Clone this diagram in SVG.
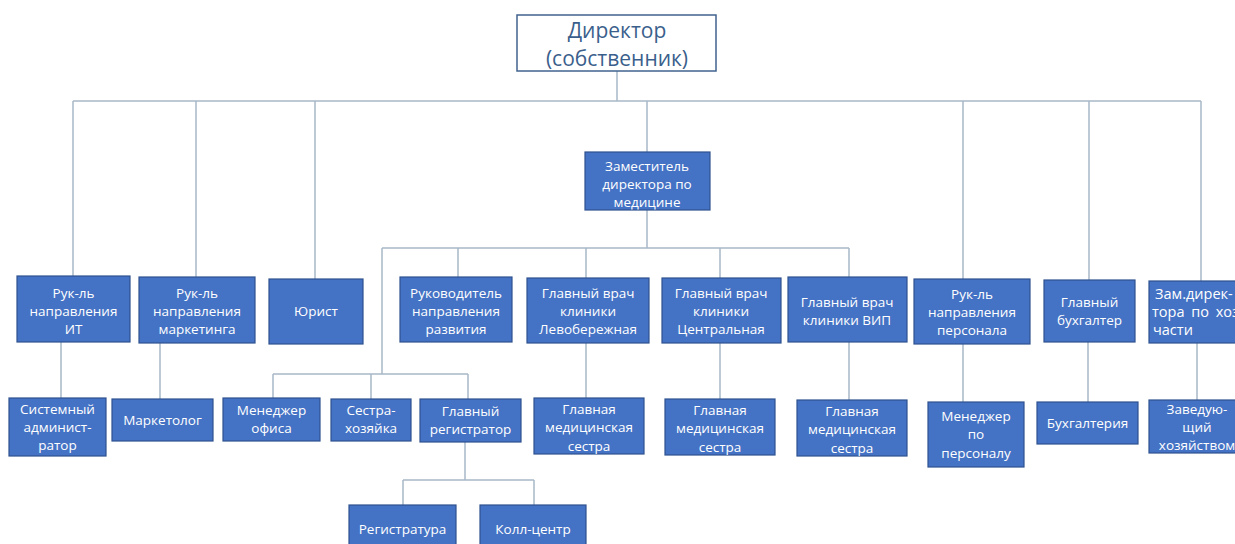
<svg xmlns="http://www.w3.org/2000/svg" width="1235" height="544" viewBox="0 0 1235 544">
<style>
.b{fill:#4472C4;stroke:#2F528F;stroke-width:1.2}
.t{font-family:"Open Sans","Noto Sans",sans-serif;font-size:13.5px;fill:#fff;text-anchor:middle}
.c{stroke:#A8B8C8;stroke-width:1.5;fill:none}
.d{font-family:"Open Sans","Noto Sans",sans-serif;font-size:21px;fill:#3B5F8C;text-anchor:middle}
</style>
<rect width="1235" height="544" fill="#fff"/>
<g id="connectors">
<path class="c" d="M617 71V101M73 101H1201M73 101V276M196 101V277M315 101V279M647 101V152M963 101V279M1089 101V280M1201 101V281"/>
<path class="c" d="M647 210V248M382 248H849M458 248V277M586 248V278M720 248V278M849 248V277M382 248V374M273 374H468M273 374V398M371 374V399M468 374V399"/>
<path class="c" d="M61 342V398M160 343V399M586 343V398M720 343V399M849 342V400M963 344V402M1088 342V402M1197 343V400"/>
<path class="c" d="M465 442V480M403 480H534M403 480V505M534 480V505"/>
</g>
<g id="director"><rect x="517" y="15" width="199" height="56" fill="#fff" stroke="#41638F" stroke-width="1.5"/><text class="d" x="617" y="38">Директор</text><text class="d" x="617" y="66">(собственник)</text></g>
<g id="zam"><rect class="b" x="585" y="152" width="125" height="58"/><text class="t" x="647" y="171">Заместитель</text><text class="t" x="647" y="189">директора по</text><text class="t" x="647" y="207">медицине</text></g>
<g id="it"><rect class="b" x="17" y="276" width="113" height="66"/><text class="t" x="73.5" y="298">Рук-ль</text><text class="t" x="73.5" y="316">направления</text><text class="t" x="73.5" y="334">ИТ</text></g>
<g id="marketing"><rect class="b" x="139" y="277" width="116" height="66"/><text class="t" x="197" y="298">Рук-ль</text><text class="t" x="197" y="316">направления</text><text class="t" x="197" y="334">маркетинга</text></g>
<g id="lawyer"><rect class="b" x="269" y="279" width="94" height="65"/><text class="t" x="316" y="316">Юрист</text></g>
<g id="dev"><rect class="b" x="400" y="277" width="112" height="65"/><text class="t" x="456" y="298">Руководитель</text><text class="t" x="456" y="316">направления</text><text class="t" x="456" y="334">развития</text></g>
<g id="lev"><rect class="b" x="527" y="278" width="122" height="65"/><text class="t" x="588" y="298">Главный врач</text><text class="t" x="588" y="316">клиники</text><text class="t" x="588" y="334">Левобережная</text></g>
<g id="centr"><rect class="b" x="662" y="278" width="119" height="65"/><text class="t" x="721" y="298">Главный врач</text><text class="t" x="721" y="316">клиники</text><text class="t" x="721" y="334">Центральная</text></g>
<g id="vip"><rect class="b" x="788" y="277" width="119" height="65"/><text class="t" x="847" y="307">Главный врач</text><text class="t" x="847" y="325">клиники ВИП</text></g>
<g id="hr"><rect class="b" x="914" y="279" width="116" height="65"/><text class="t" x="972" y="299">Рук-ль</text><text class="t" x="972" y="317">направления</text><text class="t" x="972" y="335">персонала</text></g>
<g id="accountant"><rect class="b" x="1044" y="280" width="91" height="62"/><text class="t" x="1089.5" y="307">Главный</text><text class="t" x="1089.5" y="325">бухгалтер</text></g>
<g id="zamhoz"><rect class="b" x="1149" y="281" width="100" height="62"/><text class="t" x="1155" y="299" style="text-anchor:start;font-size:14.5px">Зам.дирек-</text><text class="t" x="1152" y="317" style="text-anchor:start;font-size:14.5px;word-spacing:3px">тора по хоз</text><text class="t" x="1153" y="335" style="text-anchor:start;font-size:14.5px">части</text></g>
<g id="sysadmin"><rect class="b" x="9" y="398" width="97" height="58"/><text class="t" x="57.5" y="414">Системный</text><text class="t" x="57.5" y="432">админист-</text><text class="t" x="57.5" y="450">ратор</text></g>
<g id="marketolog"><rect class="b" x="112" y="399" width="101" height="42"/><text class="t" x="162.5" y="425">Маркетолог</text></g>
<g id="office"><rect class="b" x="223" y="398" width="97" height="43"/><text class="t" x="271.5" y="415">Менеджер</text><text class="t" x="271.5" y="433">офиса</text></g>
<g id="sister"><rect class="b" x="331" y="399" width="80" height="42"/><text class="t" x="371" y="415">Сестра-</text><text class="t" x="371" y="433">хозяйка</text></g>
<g id="registrar"><rect class="b" x="420" y="399" width="101" height="43"/><text class="t" x="470.5" y="416">Главный</text><text class="t" x="470.5" y="434">регистратор</text></g>
<g id="nurse-lev"><rect class="b" x="534" y="398" width="110" height="56"/><text class="t" x="589" y="414">Главная</text><text class="t" x="589" y="432">медицинская</text><text class="t" x="589" y="451">сестра</text></g>
<g id="nurse-centr"><rect class="b" x="665" y="399" width="110" height="56"/><text class="t" x="720" y="415">Главная</text><text class="t" x="720" y="433">медицинская</text><text class="t" x="720" y="452">сестра</text></g>
<g id="nurse-vip"><rect class="b" x="797" y="400" width="110" height="56"/><text class="t" x="852" y="416">Главная</text><text class="t" x="852" y="434">медицинская</text><text class="t" x="852" y="453">сестра</text></g>
<g id="hr-manager"><rect class="b" x="928" y="402" width="96" height="65"/><text class="t" x="976" y="421">Менеджер</text><text class="t" x="976" y="439">по</text><text class="t" x="976" y="458">персоналу</text></g>
<g id="accounting"><rect class="b" x="1037" y="402" width="101" height="42"/><text class="t" x="1087.5" y="428">Бухгалтерия</text></g>
<g id="zavhoz"><rect class="b" x="1149" y="400" width="100" height="53"/><text class="t" x="1197" y="414">Заведую-</text><text class="t" x="1197" y="432">щий</text><text class="t" x="1197" y="450">хозяйством</text></g>
<g id="registry"><rect class="b" x="349" y="505" width="107" height="45"/><text class="t" x="402.5" y="534">Регистратура</text></g>
<g id="callcenter"><rect class="b" x="480" y="505" width="106" height="45"/><text class="t" x="533" y="534">Колл-центр</text></g>
</svg>
